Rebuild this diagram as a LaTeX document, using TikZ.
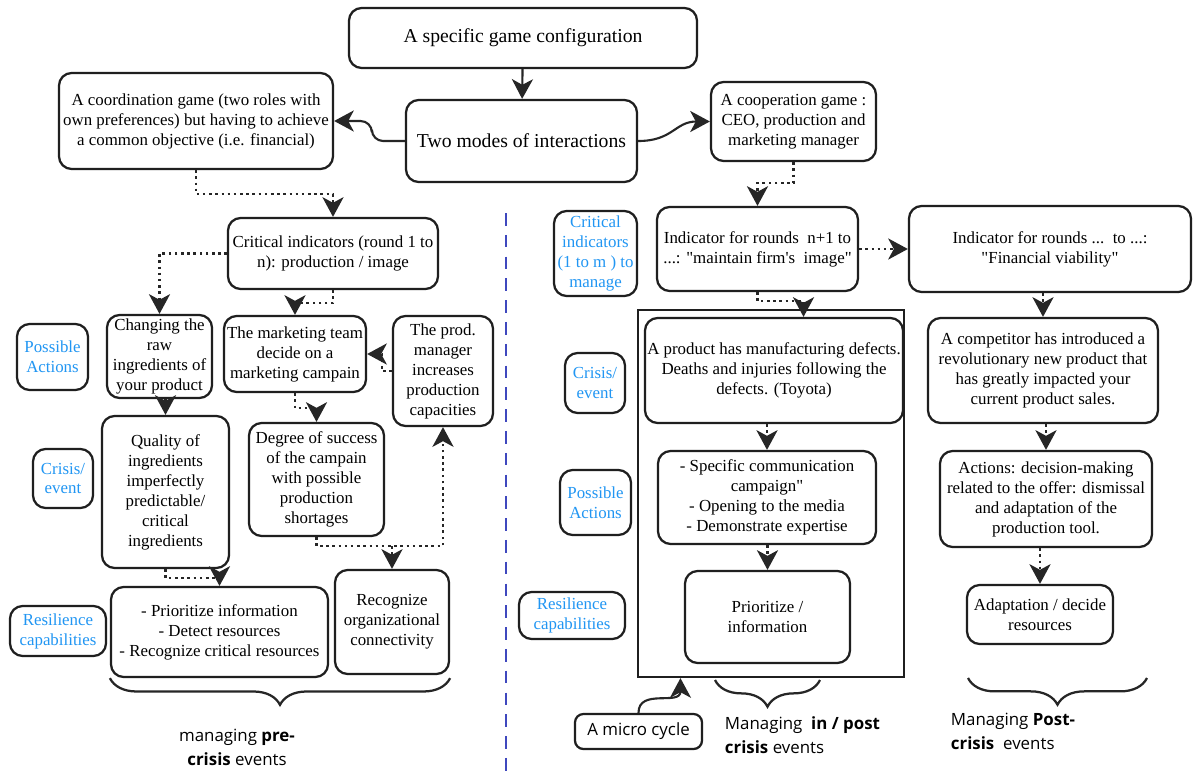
\documentclass[tikz,border=0pt]{standalone}
\usepackage{fontspec}
\setmainfont{Liberation Serif}[Ligatures=TeXOff]
\newfontfamily\opensans{Open Sans}
\usepackage{xcolor}
\usetikzlibrary{arrows.meta,positioning,decorations.pathreplacing}
\definecolor{lblue}{RGB}{33,150,243}
\definecolor{dashblue}{RGB}{63,72,190}

\begin{document}
\begin{tikzpicture}[x=0.025cm, y=-0.025cm,
    every node/.style={font=\fontsize{12}{14.2}\selectfont},
    sz/.style 2 args={minimum width=#1*0.025cm, minimum height=#2*0.025cm},
    box/.style={draw=black!88, line width=1.6pt, rounded corners=9pt, align=center, inner sep=1pt},
    lbl/.style={box, text=lblue},
    big/.style={font=\fontsize{14}{17}\selectfont},
    capt/.style={font=\opensans\fontsize{12}{17}\selectfont},
    arr/.style={draw=black!85, line width=1.5pt, -{Stealth[length=14pt, width=15pt, inset=4pt]}},
    dots/.style={arr, line width=1.8pt, dash pattern=on 1.8pt off 2.6pt},
    brc/.style={draw=black!85, line width=1.6pt, decorate, decoration={brace, mirror, amplitude=19pt}}]
    \path[fill=white, use as bounding box] (0,0) rectangle (1199,771);

    % top of the scheme
    \node (config) [box, big, sz={348}{60}] at (523,38) {A specific game configuration};
    \node (modes) [box, big, sz={231}{82}] at (521.5,141) {Two modes of interactions};
    \node (coord) [box, sz={274}{96}] at (196,121) {A coordination game (two roles with\\own preferences) but having to achieve\\a common objective (i.e. financial)};
    \node (coop) [box, sz={165}{79}] at (793.5,121.5) {A cooperation game :\\CEO, production and\\marketing manager};

    % left part: pre-crisis
    \node (critL) [box, sz={210}{71}] at (333,253.5) {Critical indicators (round 1 to\\n): production / image};
    \node (actL) [lbl, sz={71}{66}] at (52.5,357) {Possible\\Actions};
    \node (change) [box, sz={105}{83}, inner sep=0pt] at (159.5,356.5) {Changing the\\raw\\ingredients of\\your product};
    \node (mkt) [box, sz={142}{76}] at (295,354) {The marketing team\\decide on a\\marketing campain};
    \node (prod) [box, sz={100}{110}] at (443,371) {The prod.\\manager\\increases\\production\\capacities};
    \node (crisisL) [lbl, sz={60}{59}] at (63,478.5) {Crisis/\\event};
    \node (quality) [box, sz={127}{152}] at (165.5,492) {Quality of\\ingredients\\imperfectly\\predictable/\\critical\\ingredients};
    \node (degree) [box, sz={135}{113}] at (316.5,479.5) {Degree of success\\of the campain\\with possible\\production\\shortages};
    \node (resL) [lbl, sz={96}{50}] at (58,631) {Resilience\\capabilities};
    \node (prio) [box, sz={217}{90}] at (219.5,632) {- Prioritize information\\- Detect resources\\- Recognize critical resources};
    \node (recog) [box, sz={114}{104}] at (392,622) {Recognize\\organizational\\connectivity};
    \node (captL) [capt, align=center] at (237,747) {managing \textbf{pre-}\\\textbf{crisis} events};

    \draw[dashblue, line width=1.8pt, dash pattern=on 9pt off 6.5pt] (506,213) -- (506,771);

    % right part: in / post crisis
    \node (critR) [lbl, sz={83}{85}] at (595.5,253.5) {Critical\\indicators\\(1 to m ) to\\manage};
    \node (indA) [box, sz={201}{84}] at (757.5,249) {Indicator for rounds~~n+1 to\\...: "maintain firm's~~image"};
    \node (indB) [box, sz={282}{86}] at (1050,249) {Indicator for rounds ...~~to ...:\\"Financial viability"};
    \node (cycle) [draw=black!88, line width=1.6pt, sz={266}{367}, inner sep=0pt] at (771,493.5) {};
    \node (crisisR) [lbl, sz={60}{60}] at (595,383) {Crisis/\\event};
    \node (defects) [box, sz={258}{105}] at (774,370.5) {A product has manufacturing defects.\\Deaths and injuries following the\\defects. (Toyota)};
    \node (actR) [lbl, sz={71}{65}] at (595.5,502.5) {Possible\\Actions};
    \node (comm) [box, sz={218}{93}] at (767,497.5) {- Specific communication\\campaign"\\- Opening to the media\\- Demonstrate expertise};
    \node (resR) [lbl, sz={106}{47}] at (572,615.5) {Resilience\\capabilities};
    \node (prioR) [box, sz={165}{92}] at (767.5,617) {Prioritize /\\information};
    \node (micro) [box, capt, sz={127}{35}, rounded corners=6pt] at (638.5,731.5) {A micro cycle};
    \node (captM) [capt, align=left, anchor=west] at (720,735) {Managing~~\textbf{in / post}\\\textbf{crisis} events};
    \node (comp) [box, sz={230}{105}] at (1043,370.5) {A competitor has introduced a\\revolutionary new product that\\has greatly impacted your\\current product sales.};
    \node (actions) [box, sz={212}{96}] at (1046,499) {Actions: decision-making\\related to the offer: dismissal\\and adaptation of the\\production tool.};
    \node (adapt) [box, sz={146}{59}] at (1040,614.5) {Adaptation / decide\\resources};
    \node (captR) [capt, align=left, anchor=west] at (946,731) {Managing \textbf{Post-}\\\textbf{crisis}~~events};

    \draw[brc] (prio.south west) -- (prio.south west -| recog.south east);
    \draw[brc] (715,680) -- (820,680);
    \draw[brc] (968,678) -- (1147,678);

    \draw[arr] (config) -- (modes);
    \draw[arr, rounded corners=8pt] (modes.west) -- ++(-33,0) |- (coord.east);
    \draw[arr] (modes.east) .. controls +(35,0) and +(-35,0) .. (coop.west);
    \draw[dots] (coord.south) -- ++(0,24) -| (critL.north);
    \draw[dots] (critL.west) -| (change.north);
    \draw[dots] (critL.south) -- ++(0,13) -| (mkt.north);
    \draw[arr] (quality.north |- change.south) -- (quality.north);
    \draw[dots] (mkt.south) -- ++(0,15) -| (degree.north);
    \draw[dots] (prod.west) -- ++(-10,0) |- (mkt.east);
    \coordinate (split) at (392,546);
    \draw[dots] (degree.south) |- (split) -| (prod.south);
    \draw[dots] (split) -- (recog.north);
    \draw[dots] (quality.south) -- ++(0,9) -| (prio.north);
    \draw[dots] (coop.south) -- ++(0,21) -| (indA.north);
    \draw[dots] (indA) -- (indB);
    \draw[dots] (indA.south) -- ++(0,9) -| ([xshift=21pt]defects.north);
    \draw[dots] (comm.north |- defects.south) -- (comm.north);
    \draw[dots] (prioR.north |- comm.south) -- (prioR.north);
    \draw[dots] (comp.north |- indB.south) -- (comp.north);
    \draw[dots] (actions.north |- comp.south) -- (actions.north);
    \draw[dots] (adapt.north |- actions.south) -- (adapt.north);
    \draw[arr] (micro.north) .. controls +(0,-25) and +(0,28) .. ([xshift=31pt]cycle.south west);
\end{tikzpicture}
\end{document}
